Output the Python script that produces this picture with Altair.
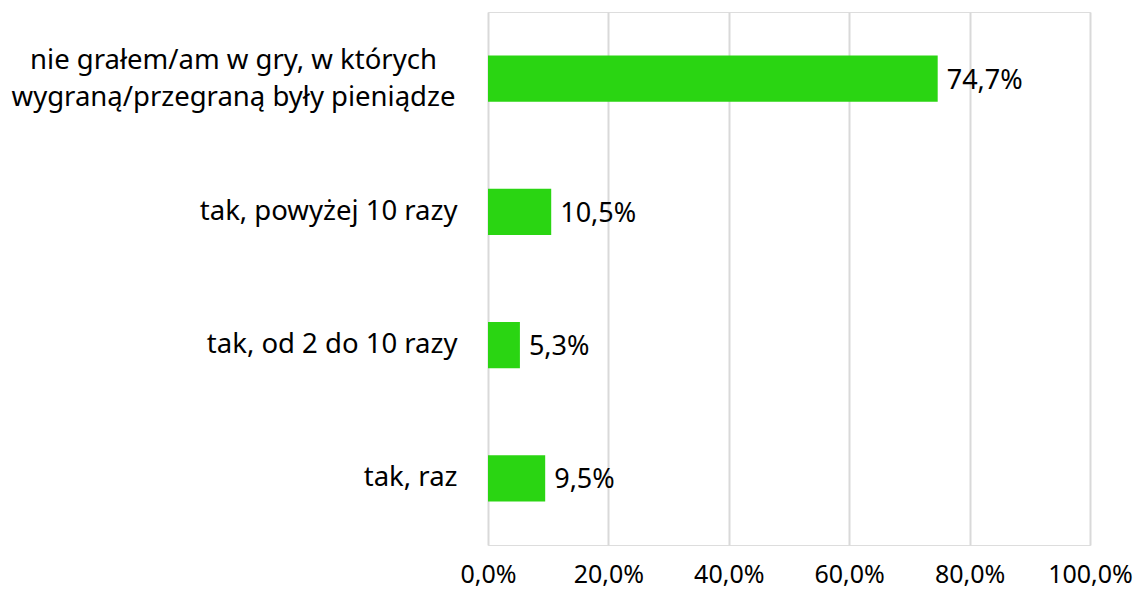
import altair as alt
import pandas as pd

categories = [
    "nie grałem/am w gry, w których|wygraną/przegraną były pieniądze",
    "tak, powyżej 10 razy",
    "tak, od 2 do 10 razy",
    "tak, raz",
]
values = [74.7, 10.5, 5.3, 9.5]
value_labels = ["74,7%", "10,5%", "5,3%", "9,5%"]
x_ticks = [0, 20, 40, 60, 80, 100]

df = pd.DataFrame({"cat": categories, "val": values, "lab": value_labels})

FONT = "Noto Sans"
FS = 27
FIRST = "indexof(datum.value, 'nie') == 0"

y_enc = alt.Y(
    "cat:N",
    sort=categories,
    scale=alt.Scale(paddingInner=0.654, paddingOuter=0.327),
    axis=alt.Axis(
        title=None,
        domain=False,
        ticks=False,
        grid=False,
        labelFont=FONT,
        labelFontSize=27.5,
        labelColor="#000000",
        labelLimit=700,
        labelLineHeight=37,
        labelExpr="split(datum.label, '|')",
        labelAlign={"condition": {"test": FIRST, "value": "center"}, "value": "right"},
        labelPadding={"condition": {"test": FIRST, "value": 255}, "value": 31},
        labelOffset={"condition": {"test": FIRST, "value": -18}, "value": 0},
    ),
)

x_enc = alt.X(
    "val:Q",
    scale=alt.Scale(domain=[0, 100], nice=False),
    axis=alt.Axis(
        title=None,
        values=x_ticks,
        domain=False,
        ticks=False,
        grid=True,
        gridColor="#d9d9d9",
        gridWidth=2,
        labelFont=FONT,
        labelFontSize=25,
        labelColor="#000000",
        labelPadding=17,
        labelFlush=False,
        labelOverlap=False,
        labelExpr="replace(format(datum.value, '.1f'), '.', ',') + '%'",
    ),
)

bars = alt.Chart(df).mark_bar(color="#2AD512").encode(x=x_enc, y=y_enc)

text = alt.Chart(df).mark_text(
    align="left", baseline="middle", dx=9, dy=2, font=FONT, fontSize=FS, color="#000000"
).encode(
    x="val:Q",
    y=alt.Y("cat:N", sort=categories),
    text="lab:N",
)

chart = (
    alt.layer(bars, text)
    .properties(
        width=602,
        height=533,
        autosize=alt.AutoSizeParams(type="none"),
        padding={"left": 480, "top": 4, "right": 45, "bottom": 48},
    )
    .configure_view(strokeWidth=0, stroke="transparent")
    .configure(background="white")
)

chart.save("out.html", embed_options={"renderer": "svg", "actions": False})
